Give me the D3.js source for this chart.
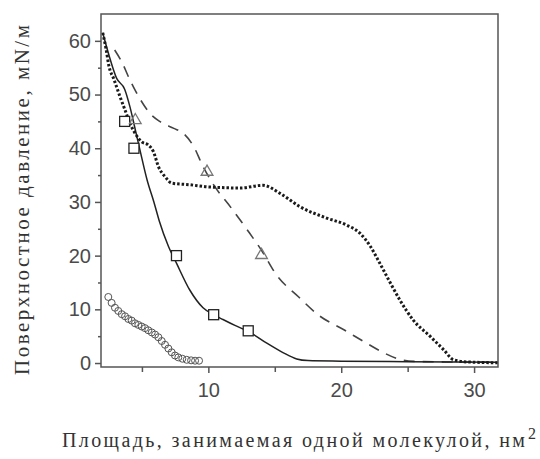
<!DOCTYPE html>
<html>
<head>
<meta charset="utf-8">
<script src="https://cdn.jsdelivr.net/npm/d3@7"></script>
<style>
  body { margin: 0; background: #fff; }
</style>
</head>
<body>
<script>
// размеры
let width = 540;
let height = 459;
let margin = { top: 14, right: 42, bottom: 92, left: 101 };

// данные
let solidLine = [
  [2.05, 61.5], [2.5, 57.5], [3.1, 53], [3.7, 51], [4.1, 47.7], [4.45, 44],
  [4.85, 39.7], [5.4, 34], [5.9, 30], [6.3, 26.5], [7.0, 21.7], [7.6, 18.6],
  [8.6, 13.6], [9.6, 10.3], [10.4, 9.0], [11.1, 8.1], [12.0, 7.0], [13.0, 5.9],
  [14.4, 3.7], [15.65, 1.9], [16.65, 0.75], [17.5, 0.45], [20, 0.35],
  [25, 0.25], [31.8, 0.15]
];
let squares = [[3.7, 45], [4.4, 40], [7.6, 20], [10.4, 9], [13, 6]];

let dashedLine = [
  [2.95, 58.3], [3.5, 56], [4.1, 52.7], [4.9, 49], [5.6, 46.5], [6.4, 44.9],
  [7.4, 43.7], [8.1, 42.8], [8.9, 40.3], [9.6, 36.6], [10.5, 32.8], [11.5, 29.6],
  [13.1, 24.2], [14, 21.0], [15.1, 16.5], [16.8, 12.3], [18.3, 8.9], [20.2, 6.2],
  [21.7, 4.0], [23.2, 1.9], [24.5, 0.6], [25.5, 0.3], [28, 0.2], [31.8, 0.15]
];
let triangles = [[4.5, 45.2], [9.9, 35.6], [14, 20.1]];

let dottedLine = [
  [2.05, 61.5], [2.3, 58.5], [2.5, 55.5], [2.9, 52.8], [3.35, 49.6], [3.73, 47.1],
  [4.1, 44.6], [4.48, 42.8], [4.98, 41.2], [5.48, 40.6], [5.86, 39.4], [6.24, 36.6],
  [6.74, 34.7], [7.24, 33.5], [8.6, 33.2], [10, 32.8], [12.4, 32.6], [14.1, 33.1],
  [15.4, 31.6], [16.9, 29.1], [18.9, 27.0], [20.4, 25.7], [21.4, 24.2], [22.2, 21.7],
  [22.9, 18.6], [23.7, 14.9], [24.4, 11.8], [25.4, 8.05], [26.7, 4.95], [27.7, 2.5],
  [28.45, 0.6], [29.5, 0.2], [31.8, 0.05]
];

let circlesData = [
  [2.47, 12.3], [2.72, 11.2], [2.97, 10.3], [3.22, 9.7], [3.48, 9.1], [3.73, 8.7],
  [3.98, 8.2], [4.23, 7.9], [4.48, 7.4], [4.73, 7.1], [4.98, 6.8], [5.23, 6.5],
  [5.48, 6.1], [5.74, 5.7], [5.99, 5.3], [6.24, 4.8], [6.49, 4.1], [6.74, 3.4],
  [6.99, 2.7], [7.24, 2.0], [7.49, 1.4], [7.74, 1.05], [8.04, 0.8], [8.37, 0.6],
  [8.7, 0.5], [9.0, 0.43], [9.3, 0.43]
];

let xTicks = [10, 20, 30];
let xMinor = [5, 15, 25];
let yTicks = [0, 10, 20, 30, 40, 50, 60];
let yMinor = [5, 15, 25, 35, 45, 55];

let x = d3.scaleLinear()
  .domain([1.92, 31.8])
  .range([margin.left, width - margin.right]);

let y = d3.scaleLinear()
  .domain([-0.74, 65])
  .range([height - margin.bottom, margin.top]);

let svg = d3.select('body')
  .append('svg')
  .attr('width', width)
  .attr('height', height);

// оси
let xAxis = g => g
  .attr('transform', `translate(0,${height - margin.bottom})`)
  .call(d3.axisBottom(x).tickValues(xTicks).tickSize(6).tickPadding(10).tickFormat(d3.format('d')))
  .call(g => g.select('.domain').remove());

let xAxisMinor = g => g
  .attr('transform', `translate(0,${height - margin.bottom})`)
  .call(d3.axisBottom(x).tickValues(xMinor).tickSize(5).tickFormat(''))
  .call(g => g.select('.domain').remove());

let yAxis = g => g
  .attr('transform', `translate(${margin.left},0)`)
  .call(d3.axisLeft(y).tickValues(yTicks).tickSize(6).tickPadding(4).tickFormat(d3.format('d')))
  .call(g => g.select('.domain').remove());

let yAxisMinor = g => g
  .attr('transform', `translate(${margin.left},0)`)
  .call(d3.axisLeft(y).tickValues(yMinor).tickSize(3).tickFormat(''))
  .call(g => g.select('.domain').remove());

svg.append('g').call(xAxis);
svg.append('g').call(xAxisMinor);
svg.append('g').call(yAxis);
svg.append('g').call(yAxisMinor);

svg.selectAll('.tick line').attr('stroke', '#555').attr('stroke-width', 1.5);
svg.selectAll('.tick text')
  .attr('font-family', 'Liberation Sans, Arial, sans-serif')
  .attr('font-size', '20px')
  .attr('fill', '#4a4a4a');

// линии
let line = d3.line()
  .x(d => x(d[0]))
  .y(d => y(d[1]))
  .curve(d3.curveMonotoneX);

svg.append('path')
  .datum(dashedLine)
  .attr('fill', 'none')
  .attr('stroke', '#444')
  .attr('stroke-width', 1.6)
  .attr('stroke-dasharray', '11,8')
  .attr('d', line);

svg.append('path')
  .datum(solidLine)
  .attr('fill', 'none')
  .attr('stroke', '#222')
  .attr('stroke-width', 1.5)
  .attr('d', line);

svg.append('path')
  .datum(dottedLine)
  .attr('fill', 'none')
  .attr('stroke', '#1a1a1a')
  .attr('stroke-width', 3)
  .attr('stroke-dasharray', '2.5,2')
  .attr('d', line);

// маркеры
svg.selectAll('.sq')
  .data(squares)
  .enter()
  .append('rect')
  .attr('x', d => x(d[0]) - 5)
  .attr('y', d => y(d[1]) - 5)
  .attr('width', 10)
  .attr('height', 10)
  .attr('fill', '#fff')
  .attr('stroke', '#222')
  .attr('stroke-width', 1.3);

let tri = d3.symbol().type(d3.symbolTriangle).size(60);
svg.selectAll('.tri')
  .data(triangles)
  .enter()
  .append('path')
  .attr('transform', d => `translate(${x(d[0])},${y(d[1])})`)
  .attr('d', tri)
  .attr('fill', 'none')
  .attr('stroke', '#777')
  .attr('stroke-width', 1.3);

svg.selectAll('.circ')
  .data(circlesData)
  .enter()
  .append('circle')
  .attr('cx', d => x(d[0]))
  .attr('cy', d => y(d[1]))
  .attr('r', 3.5)
  .attr('fill', 'none')
  .attr('stroke', '#555')
  .attr('stroke-width', 1);

// рамка
svg.append('rect')
  .attr('x', margin.left)
  .attr('y', margin.top)
  .attr('width', width - margin.left - margin.right)
  .attr('height', height - margin.top - margin.bottom)
  .attr('fill', 'none')
  .attr('stroke', '#555')
  .attr('stroke-width', 1.5);

// подписи осей (моноширинный шрифт с засечками — подгоняем длину)
svg.append('text')
  .attr('x', 62)
  .attr('y', 447)
  .attr('font-family', 'Liberation Serif, Times New Roman, serif')
  .attr('font-size', '20px')
  .attr('fill', '#333')
  .attr('textLength', 463)
  .attr('lengthAdjust', 'spacing')
  .text('Площадь, занимаемая одной молекулой, нм');

svg.append('text')
  .attr('x', 528)
  .attr('y', 439)
  .attr('font-family', 'Liberation Serif, Times New Roman, serif')
  .attr('font-size', '16px')
  .attr('fill', '#333')
  .text('2');

svg.append('text')
  .attr('transform', 'translate(28.5,200) rotate(-90)')
  .attr('text-anchor', 'middle')
  .attr('font-family', 'Liberation Serif, Times New Roman, serif')
  .attr('font-size', '21px')
  .attr('fill', '#333')
  .attr('textLength', 350)
  .attr('lengthAdjust', 'spacing')
  .text('Поверхностное давление, мN/м');
</script>
</body>
</html>
